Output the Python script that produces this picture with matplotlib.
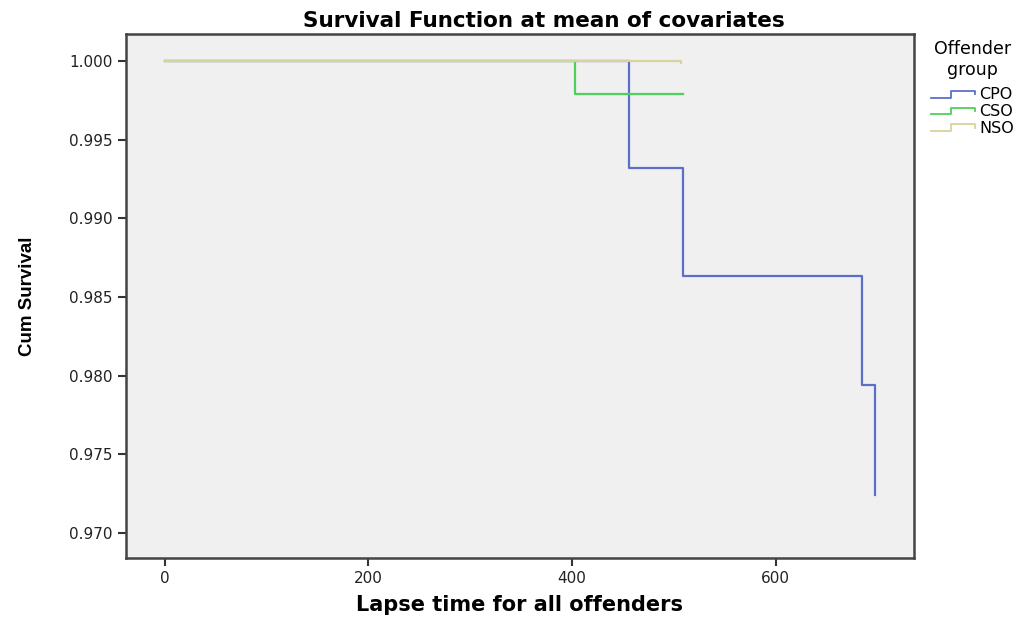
import matplotlib.pyplot as plt
from matplotlib.legend_handler import HandlerLine2D
from matplotlib.lines import Line2D

plt.rcParams['font.family'] = ['DejaVu Sans']

# data
groups = ["CPO", "CSO", "NSO"]
cpo_time = [0, 456, 509, 685, 698]
cpo_surv = [1.0, 0.9932, 0.98635, 0.9794, 0.9724]
cso_time = [0, 403, 509]
cso_surv = [1.0, 0.9979, 0.9979]
nso_time = [0, 507, 507]
nso_surv = [1.0, 1.0, 0.99988]
colors = ["#5b6fc9", "#4fcf5c", "#d8d39c"]

xticks = [0, 200, 400, 600]
yticks = [0.970, 0.975, 0.980, 0.985, 0.990, 0.995, 1.000]


class StepHandler(HandlerLine2D):
    # draw a small step in the legend, like SPSS does
    def create_artists(self, legend, orig_handle, xdescent, ydescent,
                       width, height, fontsize, trans):
        w, h = width, height
        xs = [-xdescent, 0.45 * w, 0.45 * w, w, w]
        ys = [0.15 * h, 0.15 * h, 0.75 * h, 0.75 * h, 0.45 * h]
        ln = Line2D(xs, ys, color=orig_handle.get_color(), lw=1.3)
        ln.set_transform(trans)
        return [ln]


fig = plt.figure(figsize=(10.29, 6.2), dpi=100)
ax = fig.add_axes([0.1224, 0.1, 0.7658, 0.8452])
ax.set_facecolor("#f0f0f0")

series = [(cpo_time, cpo_surv), (cso_time, cso_surv), (nso_time, nso_surv)]
handles = []
for (t, s), c, g in zip(series, colors, groups):
    h, = ax.plot(t, s, drawstyle="steps-post", color=c, lw=1.6, label=g)
    handles.append(h)

ax.set_xlim(-38.3, 736)
ax.set_ylim(0.96841, 1.001716)
ax.set_xticks(xticks)
ax.set_xticklabels([str(v) for v in xticks])
ax.set_yticks(yticks)
ax.set_yticklabels([f"{v:.3f}" for v in yticks])
ax.tick_params(direction="out", length=6, width=1.5, color="#333333",
               labelsize=11, labelcolor="#222222")

for sp in ax.spines.values():
    sp.set_color("#444444")
    sp.set_linewidth(1.8)

ax.set_title("Survival Function at mean of covariates", fontsize=15.5,
             fontweight="bold", x=0.53, pad=5)
ax.set_xlabel("Lapse time for all offenders", fontsize=15,
              fontweight="bold", labelpad=6)
ax.set_ylabel("Cum Survival", fontsize=13.5, fontweight="bold",
              family=["Liberation Sans Narrow", "Liberation Sans"], labelpad=24)

leg = fig.legend(handles=handles, labels=groups, title="Offender\ngroup",
                 loc="upper left", bbox_to_anchor=(0.888, 0.962),
                 frameon=False, fontsize=11.5, title_fontsize=12.5,
                 handlelength=2.8, handletextpad=0.25, labelspacing=0.1,
                 borderpad=0.55, handler_map={Line2D: StepHandler()})
leg.get_title().set_multialignment("center")
leg._legend_box.sep = 6  # a bit more room under the title

fig.savefig("out.png", dpi=100)
